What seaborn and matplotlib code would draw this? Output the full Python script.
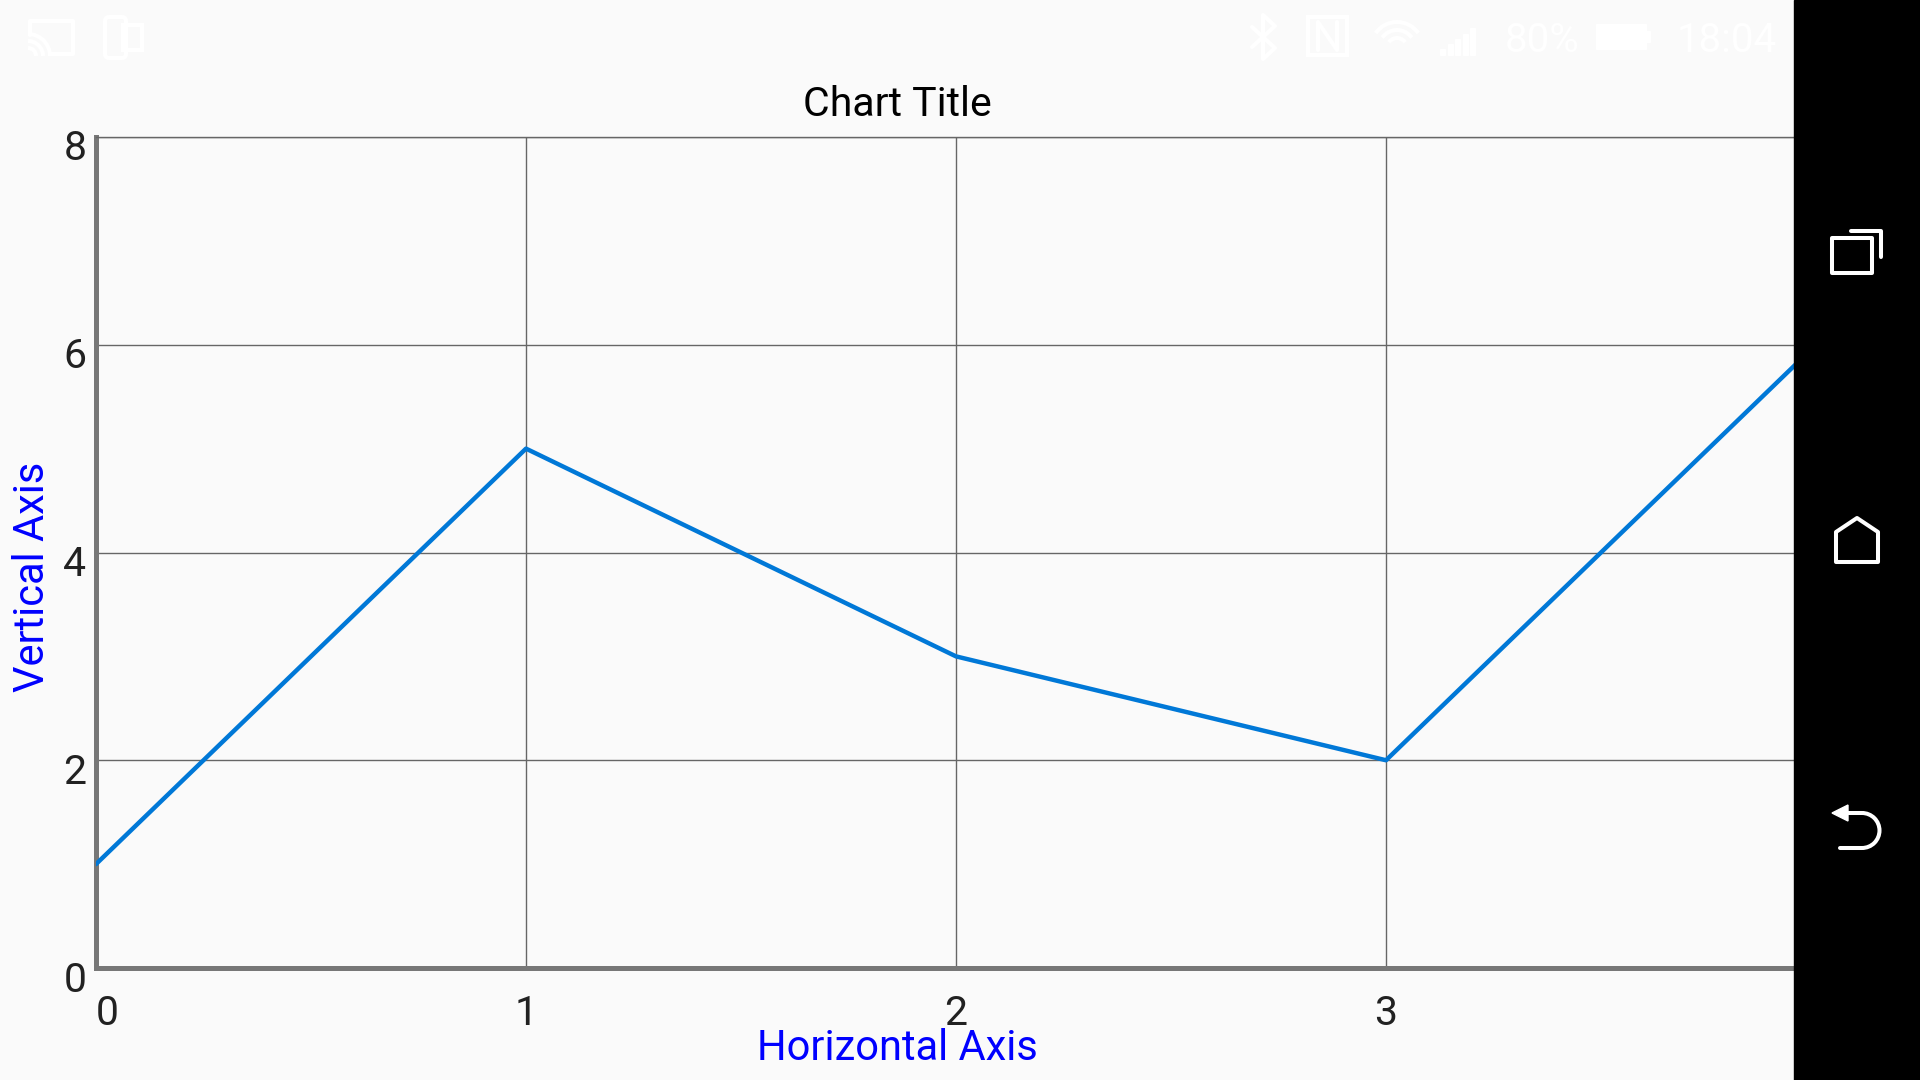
import numpy as np
import pandas as pd
import matplotlib.pyplot as plt
from matplotlib import patches, transforms
import seaborn as sns

# --- data ---------------------------------------------------------------
x_values = [0, 1, 2, 3, 4]
y_values = [1, 5, 3, 2, 6]
x_ticks = [0, 1, 2, 3, 4]
y_ticks = [0, 2, 4, 6, 8]
chart_title = "Chart Title"
x_title = "Horizontal Axis"
y_title = "Vertical Axis"
battery_text = "80%"
clock_text = "18:04"

# --- style --------------------------------------------------------------
W, H = 1920, 1080
BG = "#FAFAFA"
GRID = "#666666"
SPINE = "#777777"
LINE = "#0078D7"
LABEL_BLUE = "#0000FF"
TICK_COL = "#212121"

sns.set_theme(style="white")
plt.rcParams['font.family'] = ['Roboto', 'DejaVu Sans']

fig = plt.figure(figsize=(W / 100, H / 100), dpi=100, facecolor=BG)

# plot area in pixels: x 96..1816, y 137..968
ax = fig.add_axes([96 / W, 1 - 968 / H, 1720 / W, 831 / H])
ax.set_facecolor(BG)

df = pd.DataFrame({"x": x_values, "y": y_values})
sns.lineplot(data=df, x="x", y="y", ax=ax, color=LINE, linewidth=3.2, zorder=5)

ax.set_xlim(x_ticks[0], x_ticks[-1])
ax.set_ylim(y_ticks[0], y_ticks[-1])
ax.set_xticks(x_ticks)
ax.set_yticks(y_ticks)
ax.grid(True, color=GRID, linewidth=1.0)

ax.spines['left'].set_linewidth(3.6)
ax.spines['bottom'].set_linewidth(3.6)
ax.spines['left'].set_color(SPINE)
ax.spines['bottom'].set_color(SPINE)
for side in ['top', 'right']:
    ax.spines[side].set_linewidth(1.0)
    ax.spines[side].set_color(GRID)

ax.tick_params(length=0, labelsize=29.5, labelcolor=TICK_COL)
ax.tick_params(axis='x', pad=19)
ax.tick_params(axis='y', pad=7)

# y labels sit a bit below their gridline
shift = transforms.ScaledTranslation(0, -8 / 100, fig.dpi_scale_trans)
for tick in ax.yaxis.get_major_ticks():
    tick.label1.set_transform(tick.label1.get_transform() + shift)
ax.xaxis.get_major_ticks()[0].label1.set_horizontalalignment('left')

# titles are centred on the visible screen (0..1794)
ax.set_title(chart_title, x=(897 - 96) / 1720, pad=15, fontsize=29.5, color='black')
ax.set_xlabel(x_title, fontsize=30, color=LABEL_BLUE)
ax.xaxis.set_label_coords((897 - 96) / 1720, (968 - 1060) / 831)
ax.xaxis.label.set_verticalalignment('baseline')
ax.set_ylabel(y_title, fontsize=30, color=LABEL_BLUE)
ax.yaxis.set_label_coords((33 - 96) / 1720, (968 - 577) / 831)
ax.yaxis.label.set_verticalalignment('center')

# --- screen overlay (status bar + nav bar), pixel coordinates -----------
ov = fig.add_axes([0, 0, 1, 1], zorder=10)
ov.set_xlim(0, W)
ov.set_ylim(H, 0)
ov.axis('off')
ov.patch.set_alpha(0)

lw = 2.9
white = dict(color='white', lw=lw, solid_capstyle='round', solid_joinstyle='round')

# nav bar
ov.add_patch(patches.Rectangle((1794, 0), 126, H, color='black'))
ov.add_patch(patches.Rectangle((1832, 238), 40, 35, fill=False, ec='white', lw=lw, joinstyle='round'))
ov.plot([1851, 1881, 1881], [231, 231, 257], **white)
ov.add_patch(patches.Polygon([(1836, 562), (1836, 532), (1857, 518), (1878, 532), (1878, 562)],
                             closed=True, fill=False, ec='white', lw=lw, joinstyle='round'))
ov.add_patch(patches.Polygon([(1832, 813), (1848, 805), (1848, 821)], closed=True, color='white'))
ov.plot([1846, 1862], [813, 813], **white)
ov.add_patch(patches.Arc((1862, 830.5), 35, 35, theta1=-90, theta2=90, color='white', lw=lw))
ov.plot([1862, 1840], [848, 848], **white)

# status bar (white icons on the light background)
ov.plot([30, 30, 73, 73, 50], [35, 21, 21, 54, 54], **white)
for r in [8, 15, 22]:
    ov.add_patch(patches.Arc((28, 56), 2 * r, 2 * r, theta1=270, theta2=360, color='white', lw=lw))
ov.add_patch(patches.FancyBboxPatch((105, 17), 21, 41, boxstyle="round,pad=0,rounding_size=4",
                                    fill=False, ec='white', lw=lw))
ov.add_patch(patches.Rectangle((123, 25), 19, 25, fill=False, ec='white', lw=lw))
ov.plot([1252, 1275, 1263, 1263, 1275, 1252], [27, 48, 59, 15, 26, 47], **white)
ov.add_patch(patches.Rectangle((1308, 17), 39, 38, fill=False, ec='white', lw=lw))
ov.plot([1318, 1318, 1337, 1337], [50, 22, 50, 22], **white)
for r in [10, 18, 26]:
    ov.add_patch(patches.Arc((1397, 48), 2 * r, 2 * r, theta1=215, theta2=325, color='white', lw=lw))
for i, h in enumerate([6, 11, 16, 21, 27]):
    ov.add_patch(patches.Rectangle((1440 + i * 7.5, 55 - h), 5, h, color='white'))
ov.text(1542, 40, battery_text, color='white', fontsize=29, ha='center', va='center')
ov.add_patch(patches.Rectangle((1596, 24), 50, 25, color='white'))
ov.add_patch(patches.Rectangle((1646, 31), 4, 11, color='white'))
ov.text(1727, 40, clock_text, color='white', fontsize=29, ha='center', va='center')

fig.savefig('out.png', dpi=100, facecolor=BG)
